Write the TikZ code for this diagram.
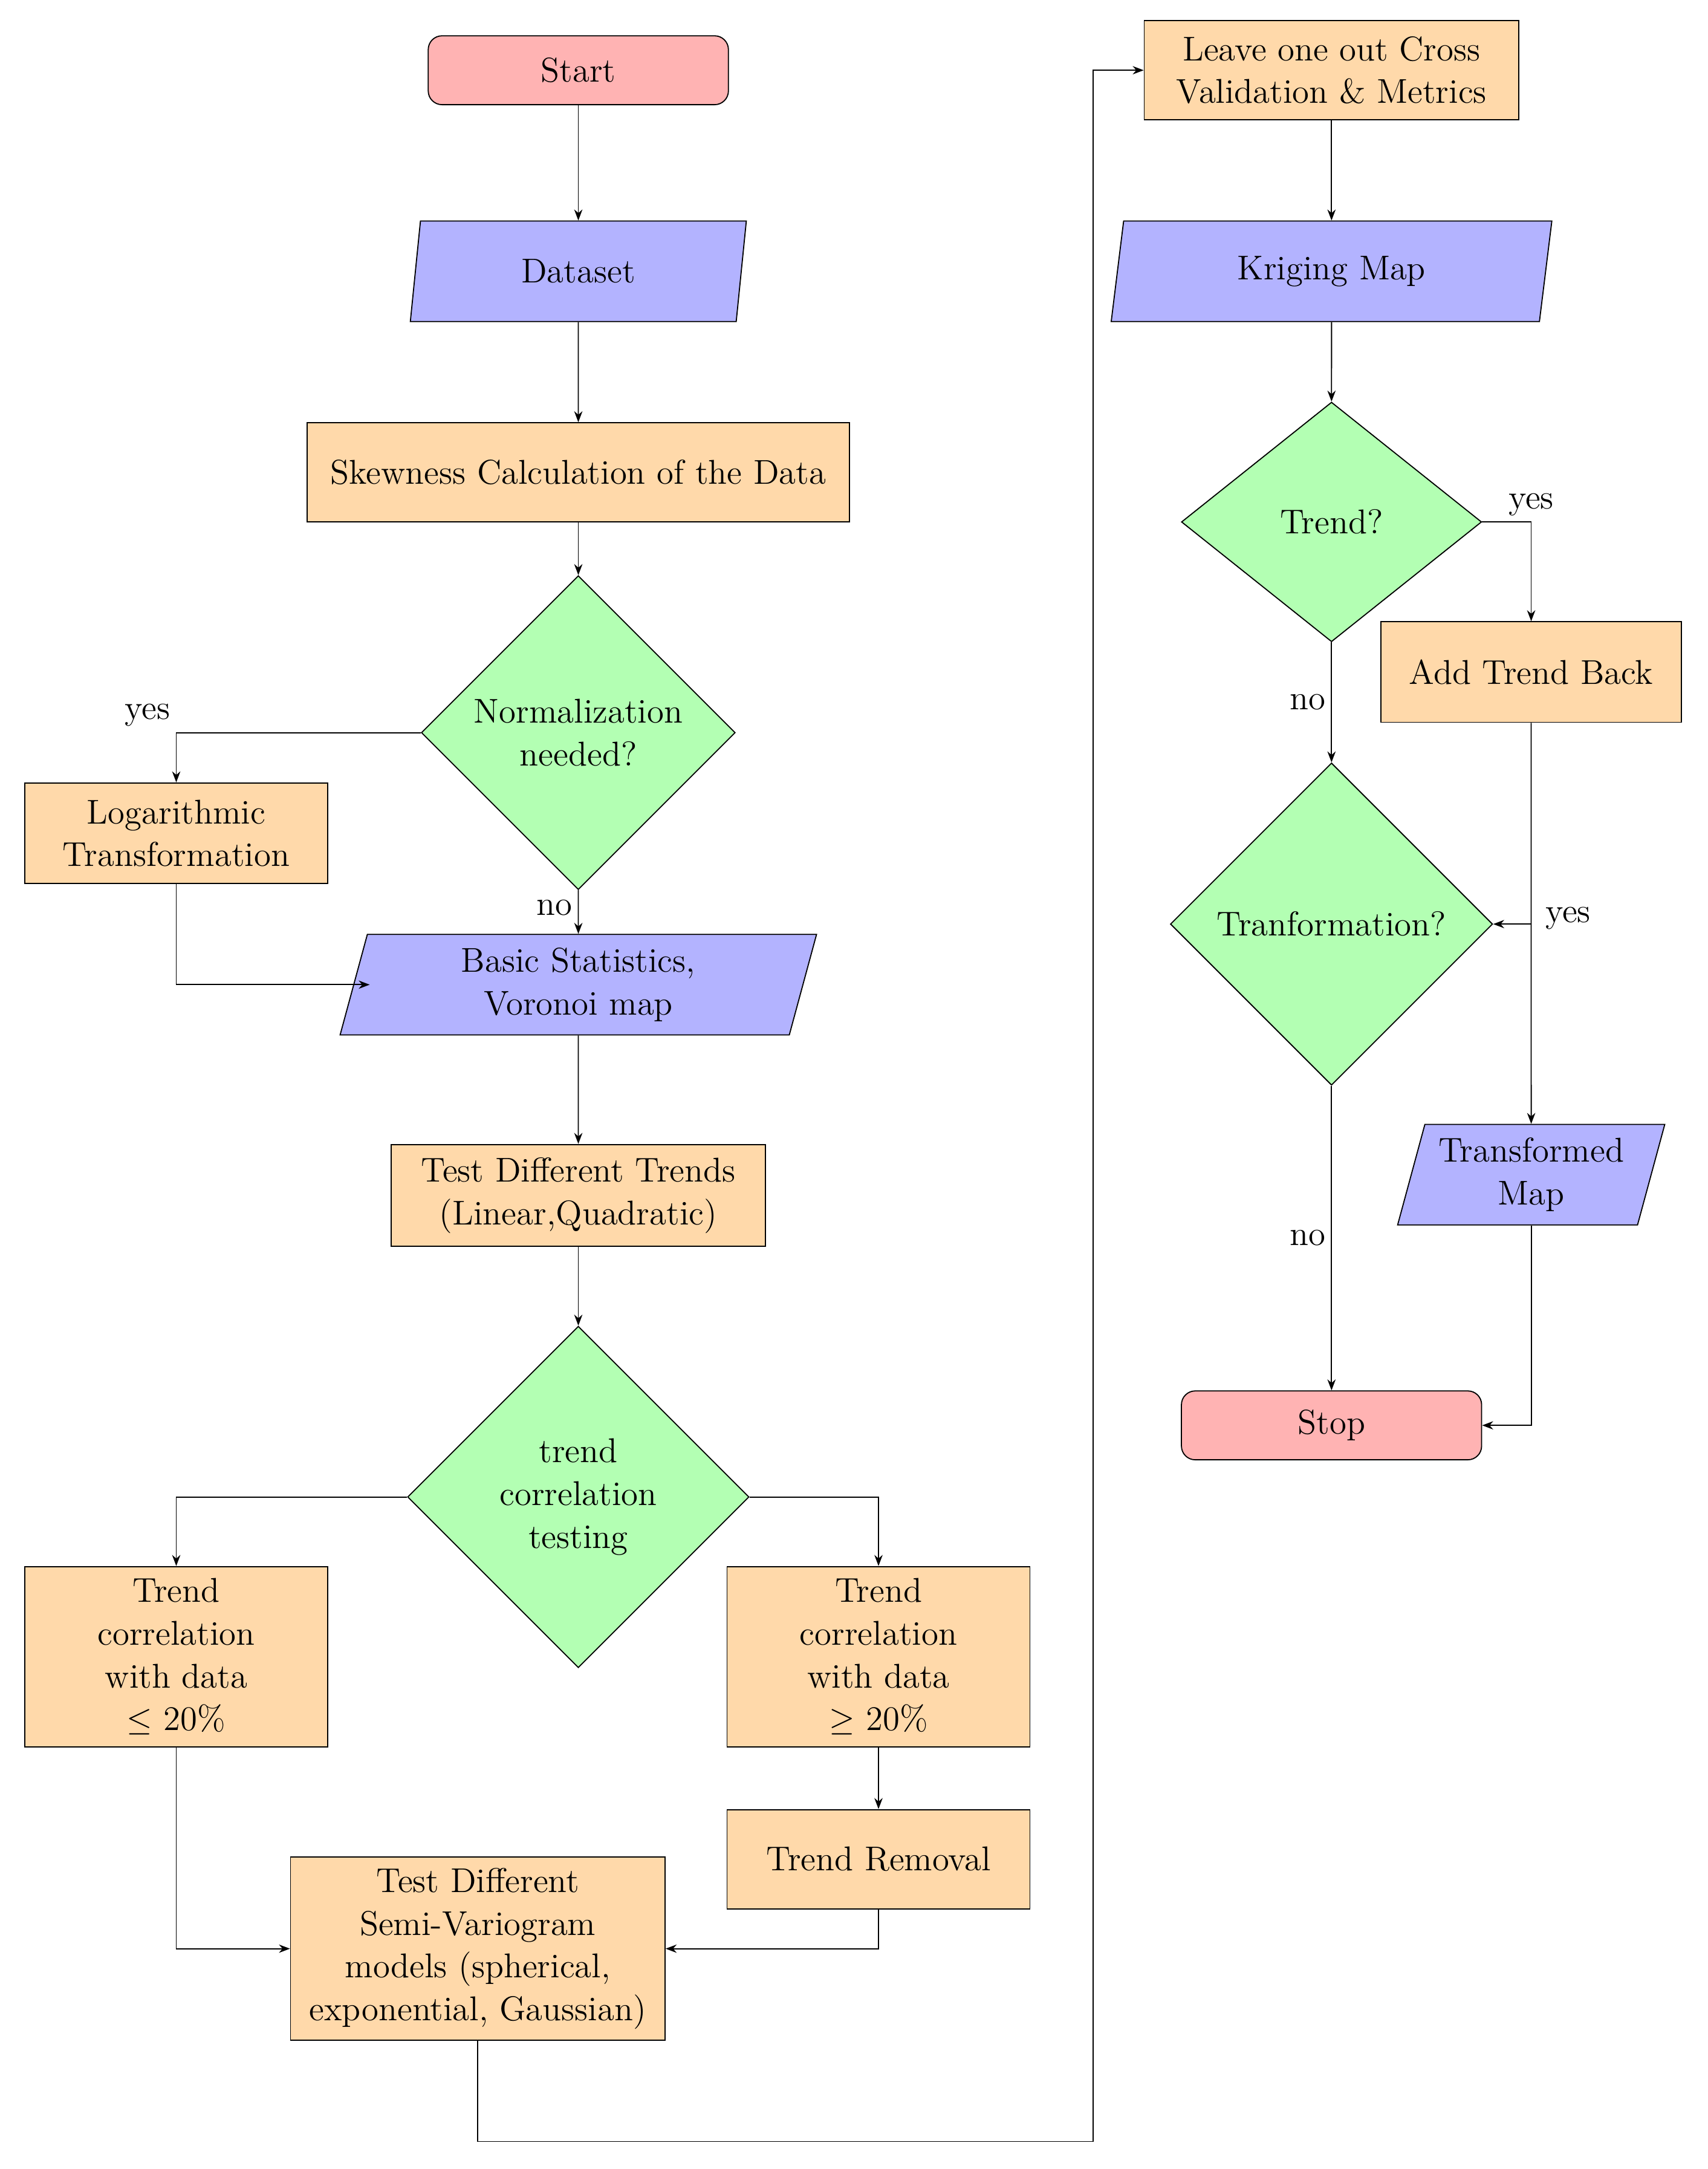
\documentclass[tikz,border=0pt]{standalone}
\usetikzlibrary{shapes.geometric,arrows.meta}
\begin{document}
\begin{tikzpicture}[x=0.5pt,y=-0.5pt,
 font=\fontsize{12.5}{15.5}\selectfont,
 every node/.style={draw,align=center,inner sep=1pt},
 box/.style={rectangle,fill=orange!35!yellow!30,fill={rgb,255:red,255;green,217;blue,170}},
 term/.style={rectangle,rounded corners=5pt,fill={rgb,255:red,255;green,179;blue,179},minimum width=109pt,minimum height=25pt},
 io/.style={trapezium,trapezium left angle=71,trapezium right angle=109,trapezium stretches body,fill={rgb,255:red,179;green,179;blue,255},minimum height=36.5pt},
 dec/.style={diamond,fill={rgb,255:red,179;green,255;blue,179},inner sep=0pt},
 lab/.style={draw=none,fill=none,inner sep=2pt},
 arr/.style={-{Stealth[length=4pt,width=3pt]}}]
\useasboundingbox (0,0) rectangle (1240,1575);
\node[term] (start) at (420,51) {Start};
\node[io,minimum width=122pt] (data) at (420,197) {Dataset};
\node[box,minimum width=197pt,minimum height=36pt] (skew) at (420,343) {Skewness Calculation of the Data};
\node[dec,minimum width=114pt,minimum height=114pt] (norm) at (420,532) {Normalization\\needed?};
\node[box,minimum width=110pt,minimum height=36.5pt] (log) at (128,605) {Logarithmic\\Transformation};
\node[io,minimum width=173pt] (basic) at (420,715) {Basic Statistics,\\Voronoi map};
\node[box,minimum width=136pt,minimum height=37pt] (tdt) at (420,868) {Test Different Trends\\(Linear,Quadratic)};
\node[dec,minimum width=124pt,minimum height=124pt] (tct) at (420,1087) {trend\\correlation\\testing};
\node[box,minimum width=110pt,minimum height=65.5pt] (le) at (128,1203) {Trend\\correlation\\with data\\$\leq$ 20\%};
\node[box,minimum width=110pt,minimum height=65.5pt] (ge) at (638,1203) {Trend\\correlation\\with data\\$\geq$ 20\%};
\node[box,minimum width=110pt,minimum height=36pt] (rem) at (638,1350) {Trend Removal};
\node[box,minimum width=136pt,minimum height=66.5pt] (semi) at (347,1415) {Test Different\\Semi-Variogram\\models (spherical,\\exponential, Gaussian)};
\node[box,minimum width=136pt,minimum height=36pt] (loo) at (967,51) {Leave one out Cross\\Validation \& Metrics};
\node[io,minimum width=160pt] (krig) at (967,197) {Kriging Map};
\node[dec,minimum width=109pt,minimum height=87pt] (trend) at (967,379) {Trend?};
\node[box,minimum width=109pt,minimum height=36.5pt] (add) at (1112,488) {Add Trend Back};
\node[dec,minimum width=117pt,minimum height=117pt] (tr) at (967,671) {Tranformation?};
\node[io,minimum width=97pt] (tmap) at (1112,853) {Transformed\\Map};
\node[term] (stop) at (967,1035) {Stop};
\coordinate (c1) at (347,1555);
\coordinate (c2) at (794,1555);
\coordinate (c3) at (1112,671);
\draw[arr] (start) -- (data);
\draw[arr] (data) -- (skew);
\draw[arr] (skew) -- (norm);
\draw[arr] (norm.west) -| (log.north) node[lab,pos=0.5,anchor=south east] {yes};
\draw[arr] (norm.south) -- (basic) node[lab,pos=0.4,left] {no};
\draw[arr] (log.south) |- ([xshift=6pt]basic.west);
\draw[arr] (basic) -- (tdt);
\draw[arr] (tdt) -- (tct);
\draw[arr] (tct.west) -| (le.north);
\draw[arr] (tct.east) -| (ge.north);
\draw[arr] (ge) -- (rem);
\draw[arr] (le.south) |- (semi.west);
\draw[arr] (rem.south) |- (semi.east);
\draw[arr] (semi.south) -- (c1) -- (c2) |- (loo.west);
\draw[arr] (loo) -- (krig);
\draw[arr] (krig) -- (trend);
\draw[arr] (trend.east) -| (add.north) node[lab,pos=0.5,anchor=south] {yes};
\draw[arr] (trend.south) -- (tr.north) node[lab,pos=0.5,left] {no};
\draw[arr] (add.south) -- (tmap.north);
\draw[arr] (c3) -- (tr.east) node[lab,pos=0,right,xshift=3pt,yshift=2pt] {yes};
\draw[arr] (tr.south) -- (stop.north) node[lab,pos=0.5,left] {no};
\draw[arr] (tmap.south) |- (stop.east);
\end{tikzpicture}
\end{document}
